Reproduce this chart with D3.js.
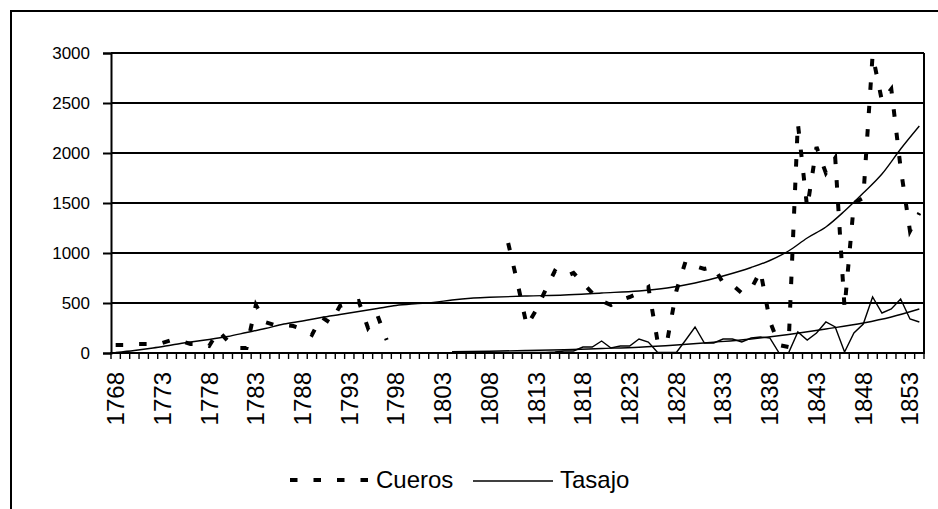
<!DOCTYPE html>
<html>
<head>
<meta charset="utf-8">
<script src="https://cdn.jsdelivr.net/npm/d3@7/dist/d3.min.js"></script>
<style>
  html, body { margin: 0; padding: 0; background: #fff; }
  svg { display: block; font-family: "Liberation Sans", Arial, sans-serif; }
</style>
</head>
<body>
<svg id="chart" width="938" height="509"></svg>
<script>
// Export series, 1768-1854 (null = no record for that year)
const years = d3.range(1768, 1855);

const cueros = [
  80, 80, 90, 90, 90, 100, 130, 120, 90, 90,          // 1768-1777
  70, 220, 120, 50, 50, 480, 310, 280, 280, 270,      // 1778-1787
  240, 180, 360, 300, 470, 500, 520, 250, 380, 130,   // 1788-1797
  null, null, null, null, null, null, null, null, null, null, null, null, // 1798-1809
  1100, 700, 270, 430, 630, 820, 760, 800, 700, 600,  // 1810-1819
  520, 480, 530, 560, 600, 660, 110, 110, 620, 920,   // 1820-1829
  870, 840, 860, 700, 680, 600, 640, 820, 320, 80,    // 1830-1839
  60, 2300, 1450, 2060, 1800, 1950, 450, 1500, 1550, 2980, // 1840-1849
  2520, 2640, 1850, 1220, 1400                        // 1850-1854
];

const tasajo = [
  null, null, null, null, null, null, null, null, null, null, // 1768-1777
  null, null, null, null, null, null, null, null, null, null, // 1778-1787
  null, null, null, null, null, null, null, null, null, null, // 1788-1797
  null, null, null, null, null, null,                         // 1798-1803
  5, 5, 5, 5, 5, 5, 5, 5, 5, 5,                       // 1804-1813
  5, 10, 20, 20, 60, 60, 120, 50, 70, 70,             // 1814-1823
  140, 110, 5, 5, 5, 130, 260, 100, 100, 140,         // 1824-1833
  140, 110, 150, 160, 150, 0, 0, 210, 130, 200,       // 1834-1843
  310, 260, 10, 200, 290, 560, 400, 440, 540, 340,    // 1844-1853
  310                                                 // 1854
];

// Trend curves (year, value)
const cuerosTrendYears = [1768, 1770, 1772, 1774, 1776, 1778, 1780, 1782, 1784, 1786, 1788, 1790, 1792, 1794, 1796, 1798, 1800, 1802, 1804, 1806, 1808, 1812, 1816, 1820, 1824, 1827, 1830, 1833, 1836, 1838, 1840, 1842, 1844, 1846, 1848, 1850, 1852, 1854];
const cuerosTrend      = [5, 25, 50, 80, 110, 135, 165, 205, 245, 290, 320, 355, 385, 415, 445, 475, 492, 505, 530, 548, 557, 570, 580, 600, 620, 650, 700, 770, 855, 925, 1020, 1150, 1260, 1420, 1600, 1790, 2040, 2270];

const tasajoTrendYears = [1804, 1808, 1812, 1816, 1820, 1824, 1828, 1832, 1836, 1840, 1844, 1848, 1851, 1854];
const tasajoTrend      = [13, 18, 25, 33, 45, 58, 80, 108, 140, 185, 240, 300, 360, 440];

const yTicks = [0, 500, 1000, 1500, 2000, 2500, 3000];
const labelYears = years.filter((y, i) => i % 5 === 0);

const seriesNames = ["Cueros", "Tasajo"];

// ---- layout
const svg = d3.select("#chart");
const plot = { left: 111, right: 924, top: 53, bottom: 353 };

// outer frame
svg.append("rect")
  .attr("x", 11).attr("y", 11)
  .attr("width", 960).attr("height", 540)
  .attr("fill", "none").attr("stroke", "#000").attr("stroke-width", 2);

const x = d3.scaleBand().domain(years).range([plot.left, plot.right]).padding(0);
const bw = x.bandwidth();
const cx = yr => x(yr) + bw / 2;
const xYear = d3.scaleLinear().domain([1768, 1854]).range([cx(1768), cx(1854)]);
const y = d3.scaleLinear().domain([0, 3000]).range([plot.bottom, plot.top]);

// gridlines
svg.append("g")
  .selectAll("line").data(yTicks.filter(v => v > 0)).join("line")
  .attr("x1", plot.left).attr("x2", plot.right)
  .attr("y1", d => y(d)).attr("y2", d => y(d))
  .attr("stroke", "#000").attr("stroke-width", 2);

// right border of plot area
svg.append("line")
  .attr("x1", plot.right).attr("x2", plot.right)
  .attr("y1", plot.top).attr("y2", plot.bottom)
  .attr("stroke", "#000").attr("stroke-width", 2);

// y axis
const yAxis = d3.axisLeft(y).tickValues(yTicks).tickSize(8).tickPadding(13).tickFormat(d3.format("d"));
const gy = svg.append("g").attr("transform", `translate(${plot.left},0)`).call(yAxis);
gy.select(".domain").attr("stroke-width", 2);
gy.selectAll(".tick line").attr("stroke-width", 2);
gy.selectAll(".tick text")
  .attr("font-family", "Liberation Sans, Arial, sans-serif")
  .attr("font-size", 17).attr("fill", "#000");

// x axis: category boundary ticks
const gx = svg.append("g");
gx.append("line")
  .attr("x1", plot.left - 1).attr("x2", plot.right + 1)
  .attr("y1", plot.bottom).attr("y2", plot.bottom)
  .attr("stroke", "#000").attr("stroke-width", 2);
gx.selectAll("line.tk").data(years.concat([1855])).join("line")
  .attr("class", "tk")
  .attr("x1", d => d === 1855 ? plot.right : x(d))
  .attr("x2", d => d === 1855 ? plot.right : x(d))
  .attr("y1", plot.bottom).attr("y2", plot.bottom + 6)
  .attr("stroke", "#000").attr("stroke-width", 1.4);
gx.selectAll("text").data(labelYears).join("text")
  .attr("transform", d => `translate(${cx(d)},${plot.bottom + 19}) rotate(-90)`)
  .attr("text-anchor", "end")
  .attr("dy", "0.35em")
  .attr("font-size", 24)
  .attr("fill", "#000")
  .text(d => d);

// trend curves
const trendLine = d3.line()
  .x(d => xYear(d[0])).y(d => y(d[1]))
  .curve(d3.curveMonotoneX);
svg.append("path")
  .datum(cuerosTrendYears.map((yr, i) => [yr, cuerosTrend[i]]))
  .attr("d", trendLine)
  .attr("fill", "none").attr("stroke", "#000").attr("stroke-width", 1.4);
svg.append("path")
  .datum(tasajoTrendYears.map((yr, i) => [yr, tasajoTrend[i]]))
  .attr("d", trendLine)
  .attr("fill", "none").attr("stroke", "#000").attr("stroke-width", 1.4);

// series lines
const seriesLine = d3.line()
  .defined(d => d[1] != null)
  .x(d => cx(d[0])).y(d => y(d[1]));

svg.append("path")
  .datum(years.map((yr, i) => [yr, tasajo[i]]))
  .attr("d", seriesLine)
  .attr("fill", "none").attr("stroke", "#000").attr("stroke-width", 1.4)
  .attr("stroke-linejoin", "miter");

svg.append("path")
  .datum(years.map((yr, i) => [yr, cueros[i]]))
  .attr("d", seriesLine)
  .attr("fill", "none").attr("stroke", "#000").attr("stroke-width", 4)
  .attr("stroke-dasharray", "7.5 16")
  .attr("stroke-linecap", "butt");

// legend
const lg = svg.append("g");
lg.append("line")
  .attr("x1", 290).attr("x2", 370).attr("y1", 480).attr("y2", 480)
  .attr("stroke", "#000").attr("stroke-width", 4).attr("stroke-dasharray", "7.5 16");
lg.append("text").attr("x", 376).attr("y", 488).attr("font-size", 24).attr("fill", "#000").text(seriesNames[0]);
lg.append("line")
  .attr("x1", 473).attr("x2", 553).attr("y1", 481).attr("y2", 481)
  .attr("stroke", "#000").attr("stroke-width", 1.4);
lg.append("text").attr("x", 560).attr("y", 488).attr("font-size", 24).attr("fill", "#000").text(seriesNames[1]);
</script>
</body>
</html>
